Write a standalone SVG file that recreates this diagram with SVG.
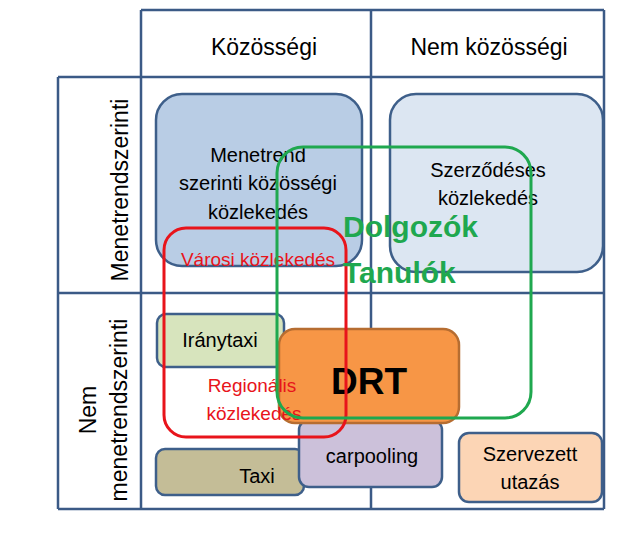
<svg xmlns="http://www.w3.org/2000/svg" width="626" height="533" viewBox="0 0 626 533">
<style>
text{font-family:"Liberation Sans",Arial,sans-serif;fill:#000}
.grid line{stroke:#3b5a86;stroke-width:2.5}
.box{stroke:#3e5f8a;stroke-width:2.5}
.h{font-size:23px;text-anchor:middle}
.t{font-size:20px;text-anchor:middle}
.r{fill:#e8141b;font-size:19px;text-anchor:middle}
.g{fill:#1fa84f;font-size:30px;font-weight:bold}
</style>
<rect width="626" height="533" fill="#fff"/>
<g class="grid" id="grid">
<line x1="141" y1="10" x2="604" y2="10"/>
<line x1="58" y1="77" x2="604" y2="77"/>
<line x1="58" y1="293" x2="604" y2="293"/>
<line x1="58" y1="509" x2="604" y2="509"/>
<line x1="58" y1="77" x2="58" y2="509"/>
<line x1="141" y1="10" x2="141" y2="509"/>
<line x1="371" y1="10" x2="371" y2="509"/>
<line x1="604" y1="10" x2="604" y2="509"/>
</g>
<g id="headers">
<text class="h" x="264" y="55">Közösségi</text>
<text class="h" x="489" y="55">Nem közösségi</text>
<text class="h" transform="translate(128,190) rotate(-90)">Menetrendszerinti</text>
<text class="h" transform="translate(96,410) rotate(-90)">Nem</text>
<text class="h" transform="translate(127,410) rotate(-90)">menetrendszerinti</text>
</g>
<g id="menetrend"><rect class="box" x="156" y="94" width="206" height="172" rx="26" fill="#b9cde5"/>
<text class="t" x="258" y="162">Menetrend</text><text class="t" x="258" y="190">szerinti közösségi</text><text class="t" x="258" y="219">közlekedés</text></g>
<g id="szerzodeses"><rect class="box" x="390" y="94" width="213" height="178" rx="26" fill="#dce6f2"/>
<text class="t" x="488" y="177">Szerződéses</text><text class="t" x="488" y="205">közlekedés</text></g>
<g id="iranytaxi"><rect class="box" x="157" y="314" width="127" height="53" rx="9" fill="#d7e4bd"/>
<text class="t" x="220" y="347">Iránytaxi</text></g>
<g id="taxi"><rect class="box" x="156" y="449" width="148" height="46" rx="9" fill="#c4bd97"/>
<text class="t" x="257" y="483">Taxi</text></g>
<g id="carpooling"><rect class="box" x="299" y="420" width="143" height="67" rx="10" fill="#ccc1da"/>
<text class="t" x="372" y="463">carpooling</text></g>
<g id="drt"><rect x="279" y="329" width="180" height="94" rx="16" fill="#f79646" stroke="#b66d31" stroke-width="2.5"/>
<text x="369" y="394" font-size="37" font-weight="bold" text-anchor="middle">DRT</text></g>
<g id="szervezett"><rect class="box" x="459" y="433" width="143" height="69" rx="10" fill="#fcd5b5"/>
<text class="t" x="530" y="461">Szervezett</text><text class="t" x="530" y="489">utazás</text></g>
<g id="regionalis"><rect x="164" y="228" width="182" height="209" rx="22" fill="none" stroke="#e8141b" stroke-width="3"/>
<text class="r" x="258" y="266">Városi közlekedés</text>
<text class="r" x="252" y="392">Regionális</text><text class="r" x="254" y="420">közlekedés</text></g>
<g id="dolgozok"><rect x="277" y="147" width="254" height="271" rx="26" fill="none" stroke="#1fa84f" stroke-width="3"/>
<text class="g" x="343" y="237">Dolgozók</text><text class="g" x="343" y="283">Tanulók</text></g>
</svg>
